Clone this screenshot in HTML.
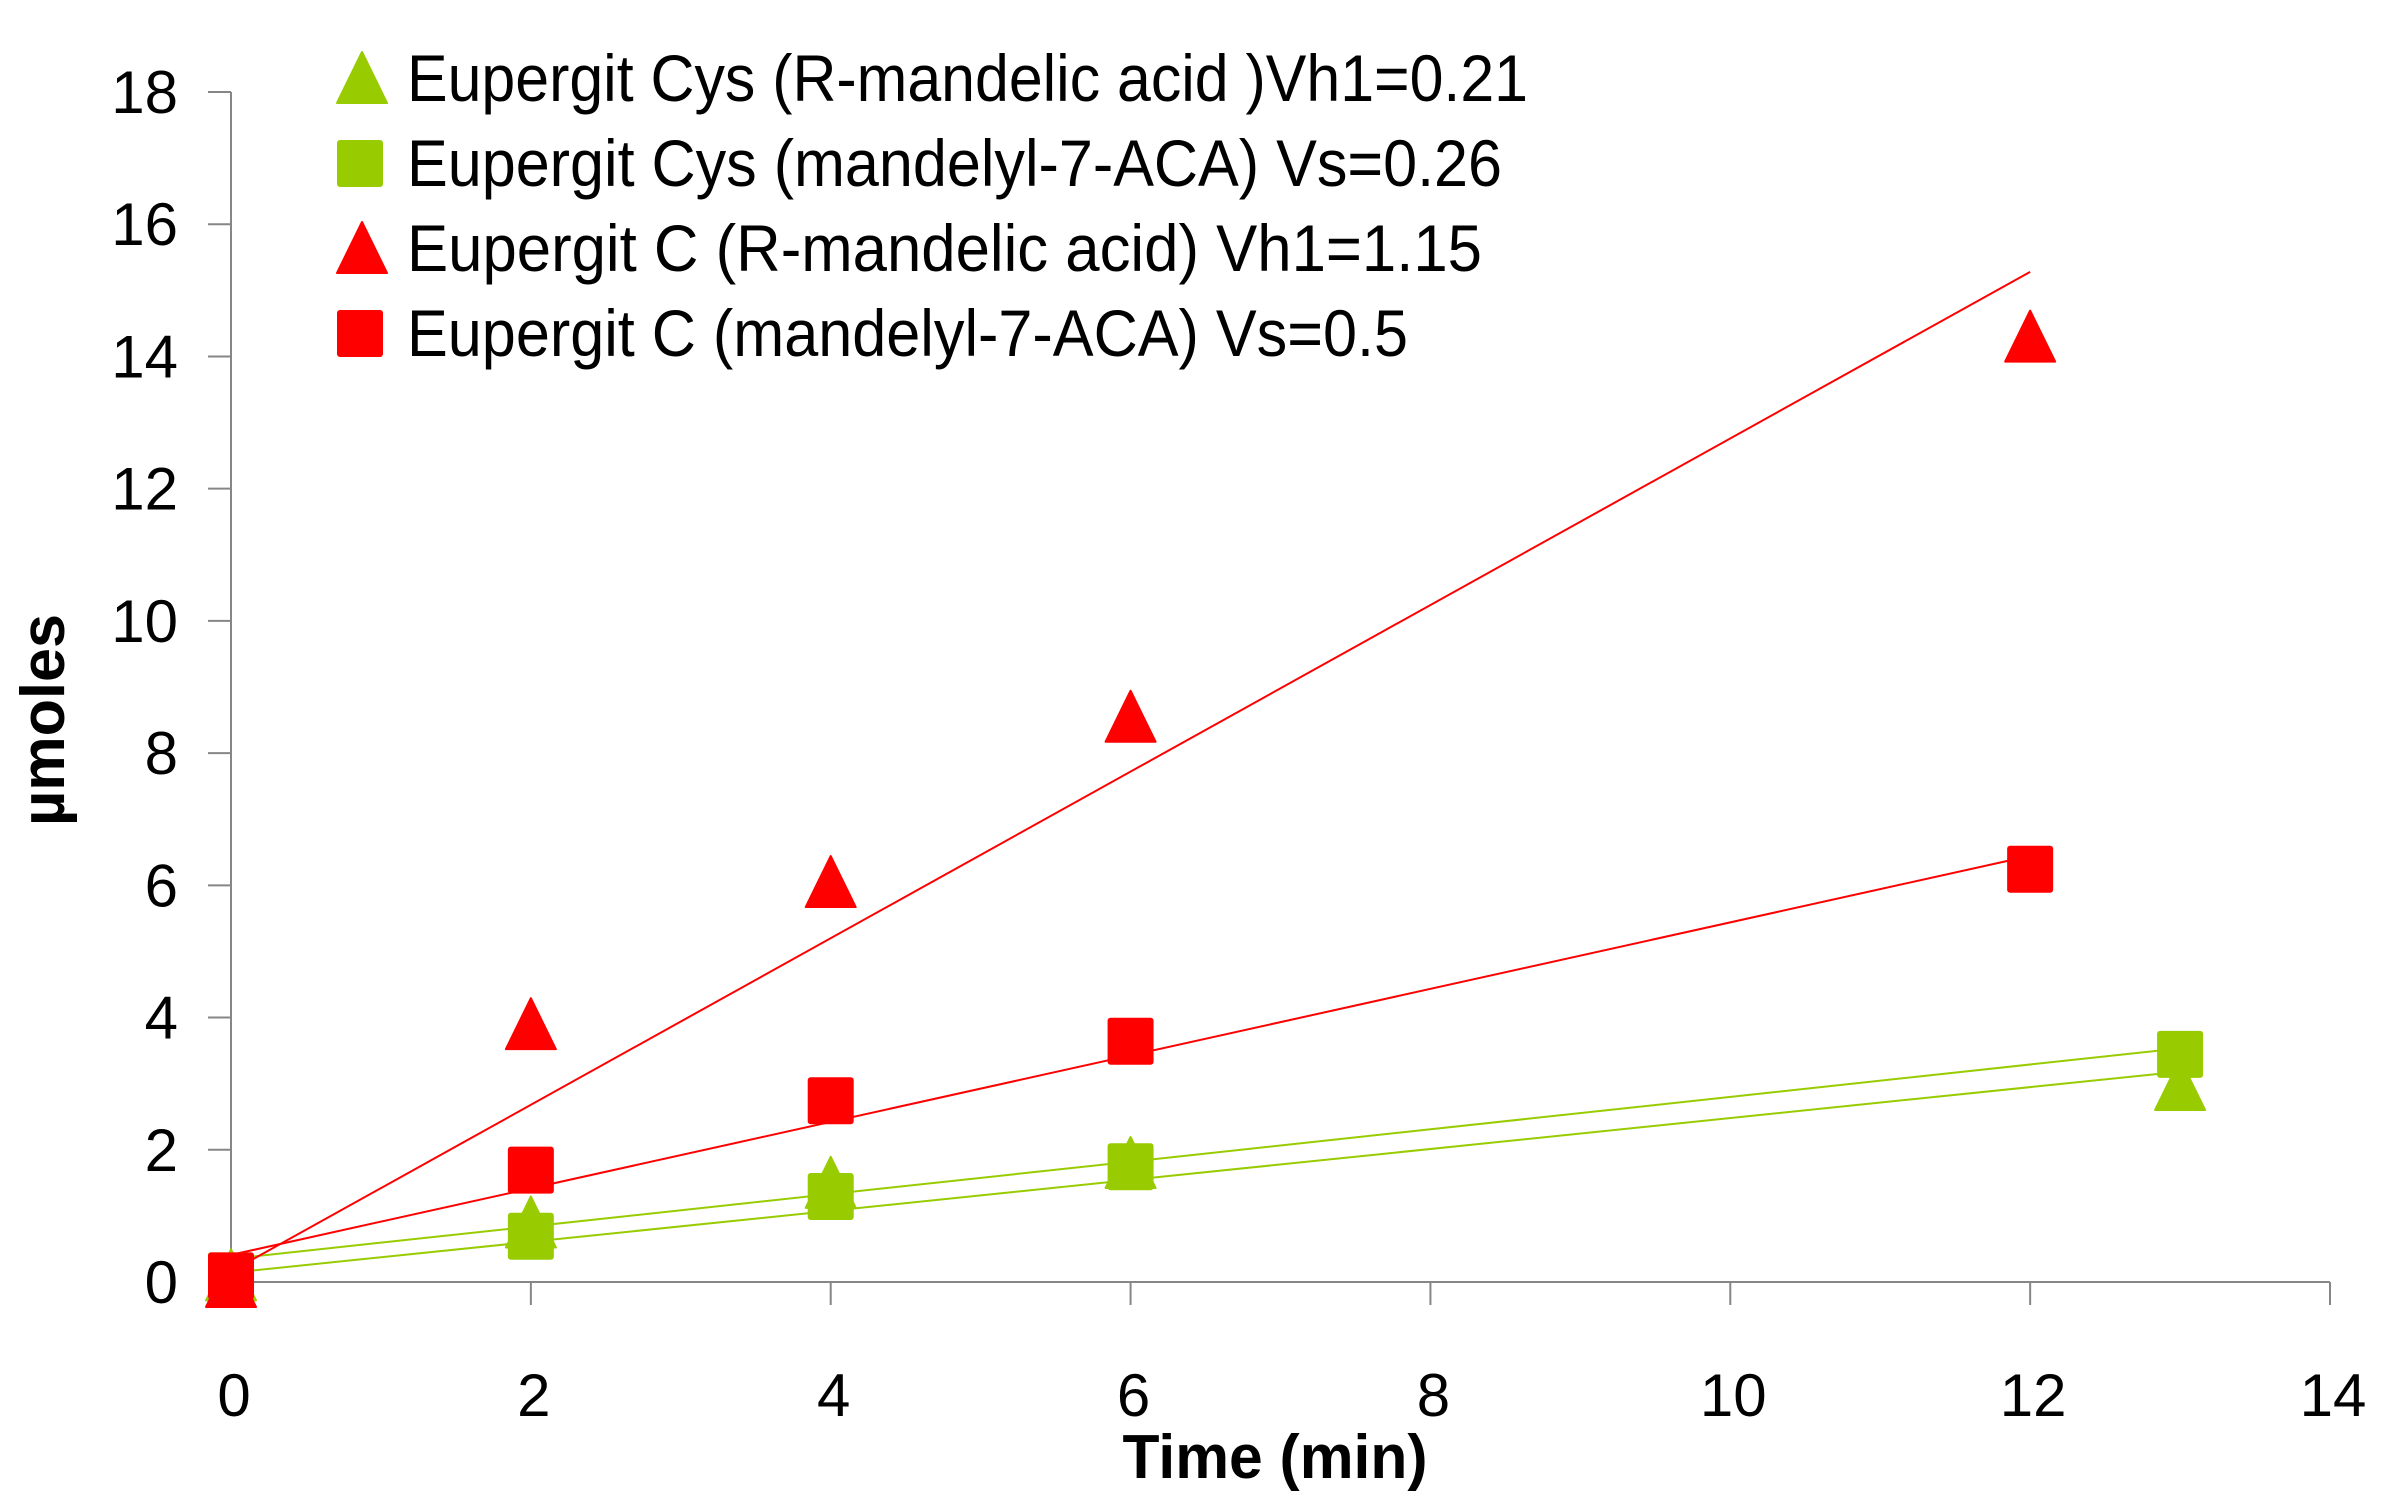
<!DOCTYPE html>
<html><head><meta charset="utf-8"><style>
html,body{margin:0;padding:0;background:#fff;}
svg{display:block;font-family:"Liberation Sans",sans-serif;}
</style></head><body>
<svg id="chart" width="2389" height="1507" viewBox="0 0 2389 1507" xmlns="http://www.w3.org/2000/svg">
<g id="axes"></g>
<g id="trends"></g>
<g id="marks"></g>
<g id="legend"></g>
<text x="1275" y="1478" font-size="62" font-weight="bold" text-anchor="middle" textLength="305" lengthAdjust="spacingAndGlyphs">Time (min)</text>
<text transform="translate(64,720) rotate(-90)" font-size="62" font-weight="bold" text-anchor="middle" textLength="212" lengthAdjust="spacingAndGlyphs">µmoles</text>
</svg>
<script>
const xTicks = [0,2,4,6,8,10,12,14];
const yTicks = [0,2,4,6,8,10,12,14,16,18];
const seriesNames = ["Eupergit Cys (R-mandelic acid )Vh1=0.21","Eupergit Cys (mandelyl-7-ACA) Vs=0.26","Eupergit C  (R-mandelic acid) Vh1=1.15","Eupergit C (mandelyl-7-ACA) Vs=0.5"];
const greenTriX = [0,2,4,6,13];
const greenTriY = [0.1,0.9,1.5,1.8,2.98];
const greenSqX = [0,2,4,6,13];
const greenSqY = [0.1,0.7,1.3,1.75,3.45];
const redTriX = [0,2,4,6,12];
const redTriY = [0,3.9,6.05,8.55,14.3];
const redSqX = [0,2,4,6,12];
const redSqY = [0.1,1.7,2.75,3.65,6.25];
const trendIntercepts = [0.14,0.35,0.16,0.41];
const trendSlopes = [0.234,0.245,1.26,0.503];
const trendEnds = [13,13,12,12];

const NS="http://www.w3.org/2000/svg";
const X0=231,X1=2330,Y0=1282,Y1=92;
const sx=v=>X0+(v-0)/(14-0)*(X1-X0);
const sy=v=>Y0-(v-0)/(18-0)*(Y0-Y1);
function mk(parent,tag,attrs){const e=document.createElementNS(NS,tag);for(const k in attrs)e.setAttribute(k,attrs[k]);parent.appendChild(e);return e;}
const axes=document.getElementById('axes');
let a=mk(axes,'line',{x1:X0,y1:Y1,x2:X0,y2:Y0,stroke:'#868686','stroke-width':2});


a=mk(axes,'line',{x1:X0,y1:Y0,x2:X1,y2:Y0,stroke:'#868686','stroke-width':2});


yTicks.forEach(t=>{
  const l=mk(axes,'line',{x1:X0-23,y1:sy(t),x2:X0,y2:sy(t),stroke:'#868686','stroke-width':2});
  
  
  const tx=mk(axes,'text',{x:178,y:sy(t)+21,'font-size':60,'text-anchor':'end'});
  tx.textContent=t;
  
  
});
xTicks.forEach(t=>{
  const l=mk(axes,'line',{x1:sx(t),y1:Y0,x2:sx(t),y2:Y0+23,stroke:'#868686','stroke-width':2});
  
  
  const tx=mk(axes,'text',{x:sx(t)+3,y:1416,'font-size':60,'text-anchor':'middle'});
  tx.textContent=t;
  
  
});
const colors=['#99CC00','#99CC00','#FF0000','#FF0000'];
const trends=document.getElementById('trends');
trendSlopes.forEach((s,i)=>{
  const l=mk(trends,'line',{x1:sx(0),y1:sy(trendIntercepts[i]),x2:sx(trendEnds[i]),y2:sy(trendIntercepts[i]+s*trendEnds[i]),stroke:colors[i],'stroke-width':2});
  
  
});
function tri(parent,cx,cy,c,name){const p=mk(parent,'polygon',{points:`${cx},${cy-26} ${cx+25},${cy+25} ${cx-25},${cy+25}`,fill:c,'stroke':c,'stroke-width':2,'stroke-linejoin':'round'});
  
  }
function sq(parent,cx,cy,c,name){const r=mk(parent,'rect',{x:cx-23,y:cy-23,width:46,height:47,rx:3,fill:c});
  
  }
const marks=document.getElementById('marks');
greenTriX.forEach((x,i)=>tri(marks,sx(x),sy(greenTriY[i]),'#99CC00','green-triangle-point'));
greenSqX.forEach((x,i)=>sq(marks,sx(x),sy(greenSqY[i]),'#99CC00','green-square-point'));
redTriX.forEach((x,i)=>tri(marks,sx(x),sy(redTriY[i]),'#FF0000','red-triangle-point'));
redSqX.forEach((x,i)=>sq(marks,sx(x),sy(redSqY[i]),'#FF0000','red-square-point'));
const legend=document.getElementById('legend');
const legY=[78,163,248,333];
const legW=[1121,1095,1075,1001];
seriesNames.forEach((n,i)=>{
  if(i%2===0) tri(legend,362,legY[i],colors[i],'legend-marker');
  else sq(legend,360,legY[i],colors[i],'legend-marker');
  const t=mk(legend,'text',{x:407,y:legY[i]+23,'font-size':66,textLength:legW[i],lengthAdjust:'spacingAndGlyphs'});
  t.textContent=n;
  
  
});
</script>
</body></html>
